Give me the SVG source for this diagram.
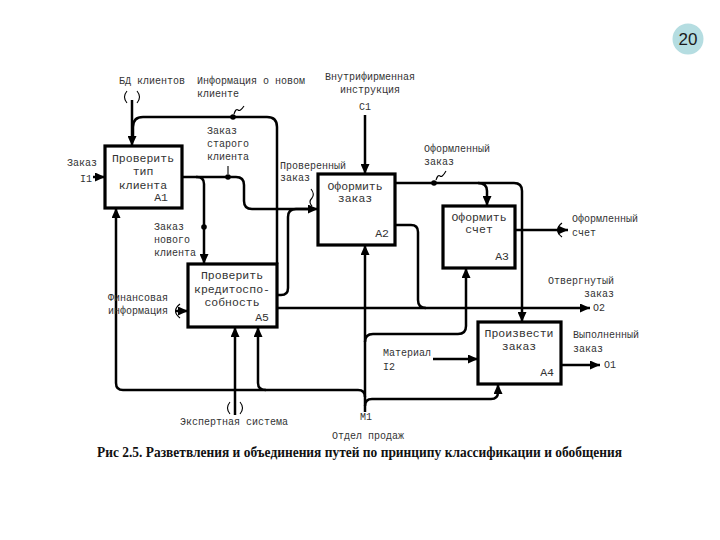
<svg xmlns="http://www.w3.org/2000/svg" width="720" height="540" viewBox="0 0 720 540">
<style>
.box{fill:#fff;stroke:#000;stroke-width:3.2}
.bt{font-family:"Liberation Mono","DejaVu Sans Mono",monospace;font-size:11.5px;fill:#333}
.lb{font-family:"Liberation Mono","DejaVu Sans Mono",monospace;font-size:10px;fill:#333}
.ln{fill:none;stroke:#000;stroke-width:2.5}
.th{fill:none;stroke:#000;stroke-width:1.1}
.dot{fill:#000}
</style>
<defs>
<marker id="ah" markerUnits="userSpaceOnUse" markerWidth="10" markerHeight="9" viewBox="0 0 10 9" refX="10" refY="4.5" orient="auto">
<path d="M0,0 L10,4.5 L0,9 z" fill="#000"/>
</marker>
</defs>
<rect width="720" height="540" fill="#fff"/>

<g id="connectors">
<!-- controls -->
<path class="ln" d="M132,100 V146" marker-end="url(#ah)"/>
<path class="ln" d="M277,264 V127 Q277,117 267,117 H143 Q133,117 133,127 V138"/>
<path class="ln" d="M365,115 V174" marker-end="url(#ah)"/>
<!-- I1 -->
<path class="ln" d="M93,177 H105" marker-end="url(#ah)"/>
<!-- A1 outputs -->
<path class="ln" d="M182,177 H197 Q204,177 204,184 V264" marker-end="url(#ah)"/>
<path class="ln" d="M196,177 H236 Q244,177 244,185 V201 Q244,209 252,209 H318" marker-end="url(#ah)"/>
<!-- A5 to A2 -->
<path class="ln" d="M277,295 H281 Q288,295 288,288 V217 Q288,209 296,209 H310"/>
<!-- A5 output O2 -->
<path class="ln" d="M277,308 H590" marker-end="url(#ah)"/>
<!-- A2 outputs -->
<path class="ln" d="M395,225 H411 Q418,225 418,232 V300 Q418,308 426,308"/>
<path class="ln" d="M395,183 H514 Q522,183 522,191 V322" marker-end="url(#ah)"/>
<path class="ln" d="M478,183 Q487,183 487,191 V206" marker-end="url(#ah)"/>
<!-- A3 output -->
<path class="ln" d="M515,230 H568" marker-end="url(#ah)"/>
<!-- A4 output -->
<path class="ln" d="M561,365 H600" marker-end="url(#ah)"/>
<!-- I2 -->
<path class="ln" d="M433,359 H478" stroke-width="3.5" marker-end="url(#ah)"/>
<!-- Financial info -->
<path class="ln" d="M176,311 H188" marker-end="url(#ah)"/>
<!-- Mechanisms -->
<path class="ln" d="M365,412 V245" marker-end="url(#ah)"/>
<path class="ln" d="M365,397 Q365,390 358,390 H123 Q116,390 116,383 V208" marker-end="url(#ah)"/>
<path class="ln" d="M266,390 Q258,390 258,383 V327" marker-end="url(#ah)"/>
<path class="ln" d="M365,406 Q365,399 372,399 H491 Q498,399 498,392 V384" marker-end="url(#ah)"/>
<path class="ln" d="M365,342 Q365,334 373,334 H458 Q466,334 466,326 V268" marker-end="url(#ah)"/>
<path class="ln" d="M235,415 V327" marker-end="url(#ah)"/>
<!-- junction dots -->
<circle class="dot" cx="233" cy="117" r="2.8"/>
<circle class="dot" cx="228" cy="177" r="2.8"/>
<circle class="dot" cx="204" cy="227" r="2.8"/>
<circle class="dot" cx="434" cy="183" r="2.8"/>
<!-- squiggles / ticks -->
<path class="th" d="M234,114 q2,-6 4,-4 q2,2 6,-4"/>
<path class="th" d="M228,174 V166"/>
<path class="th" d="M436,180 q2,-6 4,-4 q2,2 6,-5"/>
<path class="th" d="M312,206 q-4,-4 0,-8 q3,-4 -1,-9"/>
<!-- tunnel parentheses -->
<path class="th" d="M127,91 Q122,97 127,103"/>
<path class="th" d="M137,91 Q142,97 137,103"/>
<path class="th" d="M230,402 Q225,408 230,414"/>
<path class="th" d="M240,402 Q245,408 240,414"/>
<path class="th" d="M180,304 Q171,311 180,318"/>
<path class="th" d="M562,223 Q553,230 562,237"/>
</g>

<g id="A1">
<rect class="box" x="105" y="146" width="77" height="62"/>
<text class="bt" x="143" y="162" text-anchor="middle">Проверить</text>
<text class="bt" x="143" y="175" text-anchor="middle">тип</text>
<text class="bt" x="143" y="189" text-anchor="middle">клиента</text>
<text class="bt" x="168" y="201" text-anchor="end">A1</text>
</g>
<g id="A2">
<rect class="box" x="318" y="174" width="77" height="71"/>
<text class="bt" x="355" y="190" text-anchor="middle">Оформить</text>
<text class="bt" x="355" y="202" text-anchor="middle">заказ</text>
<text class="bt" x="389" y="237" text-anchor="end">A2</text>
</g>
<g id="A3">
<rect class="box" x="443" y="206" width="72" height="62" stroke-width="2.8"/>
<text class="bt" x="479" y="221" text-anchor="middle">Оформить</text>
<text class="bt" x="479" y="233" text-anchor="middle">счет</text>
<text class="bt" x="509" y="260" text-anchor="end">A3</text>
</g>
<g id="A5">
<rect class="box" x="188" y="264" width="89" height="63"/>
<text class="bt" x="232" y="279" text-anchor="middle">Проверить</text>
<text class="bt" x="232" y="293" text-anchor="middle">кредитоспо-</text>
<text class="bt" x="232" y="306" text-anchor="middle">собность</text>
<text class="bt" x="269" y="321" text-anchor="end">A5</text>
</g>
<g id="A4">
<rect class="box" x="478" y="322" width="83" height="62" stroke-width="2.8"/>
<text class="bt" x="519" y="337" text-anchor="middle">Произвести</text>
<text class="bt" x="519" y="350" text-anchor="middle">заказ</text>
<text class="bt" x="554" y="376" text-anchor="end">A4</text>
</g>

<g id="labels">
<text class="lb" x="119" y="84">БД клиентов</text>
<text class="lb" x="197" y="84">Информация о новом</text>
<text class="lb" x="197" y="97">клиенте</text>
<text class="lb" x="370" y="80" text-anchor="middle">Внутрифирменная</text>
<text class="lb" x="370" y="93" text-anchor="middle">инструкция</text>
<text class="lb" x="365" y="110" text-anchor="middle">C1</text>
<text class="lb" x="207" y="134">Заказ</text>
<text class="lb" x="207" y="147">старого</text>
<text class="lb" x="207" y="160">клиента</text>
<text class="lb" x="67" y="166">Заказ</text>
<text class="lb" x="80" y="182">I1</text>
<text class="lb" x="280" y="169">Проверенный</text>
<text class="lb" x="280" y="181">заказ</text>
<text class="lb" x="424" y="152">Оформленный</text>
<text class="lb" x="424" y="165">заказ</text>
<text class="lb" x="154" y="230">Заказ</text>
<text class="lb" x="154" y="243">нового</text>
<text class="lb" x="154" y="256">клиента</text>
<text class="lb" x="108" y="301">Финансовая</text>
<text class="lb" x="108" y="314">информация</text>
<text class="lb" x="572" y="222">Оформленный</text>
<text class="lb" x="572" y="236">счет</text>
<text class="lb" x="614" y="284" text-anchor="end">Отвергнутый</text>
<text class="lb" x="614" y="297" text-anchor="end">заказ</text>
<text class="lb" x="593" y="311">O2</text>
<text class="lb" x="573" y="338">Выполненный</text>
<text class="lb" x="573" y="352">заказ</text>
<text class="lb" x="604" y="368">O1</text>
<text class="lb" x="383" y="356">Материал</text>
<text class="lb" x="383" y="370">I2</text>
<text class="lb" x="180" y="425">Экспертная система</text>
<text class="lb" x="366" y="420" text-anchor="middle">M1</text>
<text class="lb" x="332" y="439">Отдел продаж</text>
</g>

<text x="97" y="457" font-family="Liberation Serif, serif" font-weight="bold" font-size="14" fill="#111" textLength="525" lengthAdjust="spacingAndGlyphs">Рис  2.5. Разветвления и объединения путей по принципу классификации и обобщения</text>

<g id="page-number">
<circle cx="688" cy="39" r="15.5" fill="#b5dde1"/>
<text x="688" y="45" text-anchor="middle" font-family="Liberation Sans, Arial, sans-serif" font-size="17" fill="#1a1a1a">20</text>
</g>
</svg>
